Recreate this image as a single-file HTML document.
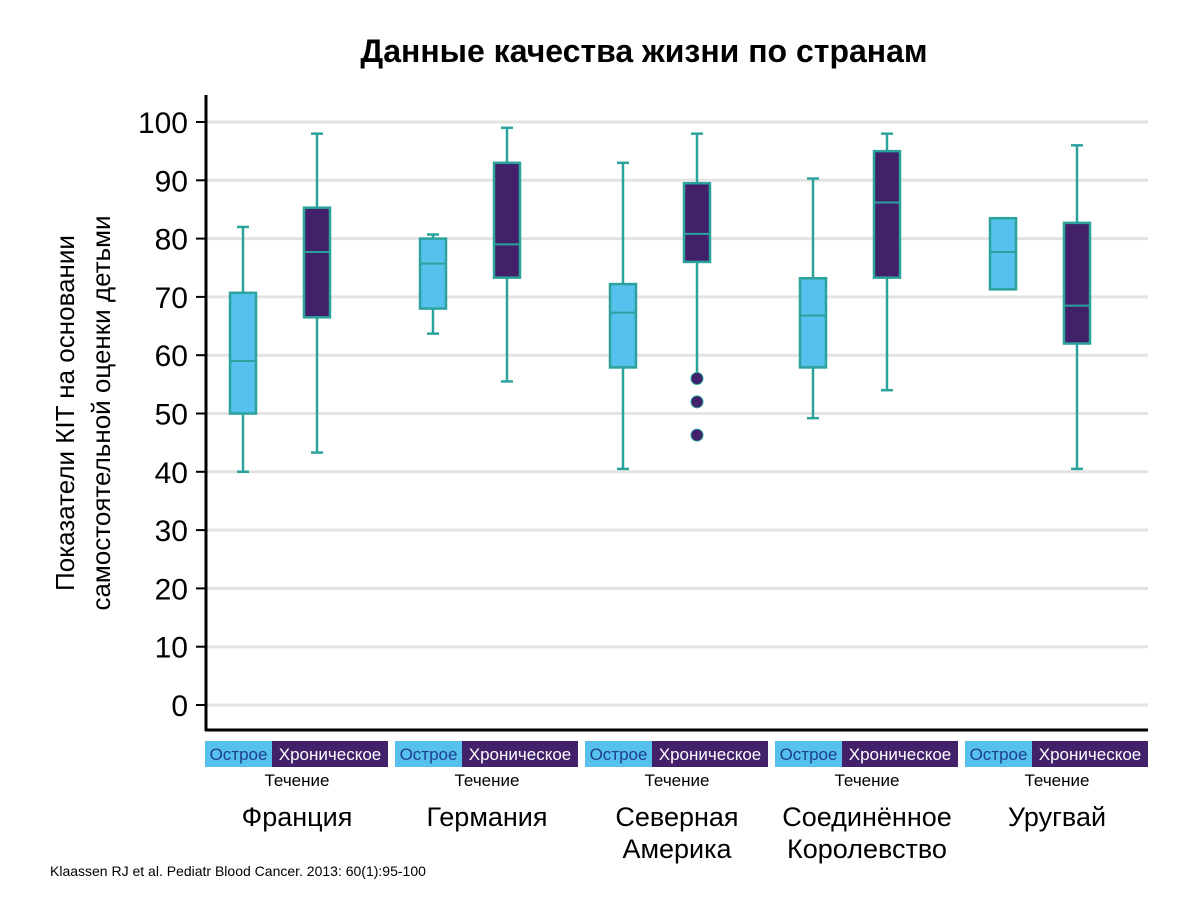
<!DOCTYPE html>
<html><head><meta charset="utf-8"><style>
body{margin:0;background:#fff;font-family:"Liberation Sans",sans-serif}
</style></head><body>
<svg id="chart" width="1200" height="909" xmlns="http://www.w3.org/2000/svg" font-family="Liberation Sans, sans-serif">
<text x="644" y="62" font-size="32" font-weight="bold" text-anchor="middle">Данные качества жизни по странам</text>
<text transform="translate(74,413) rotate(-90)" font-size="26" text-anchor="middle">Показатели КIT на основании</text>
<text transform="translate(110,413) rotate(-90)" font-size="26" text-anchor="middle">самостоятельной оценки детьми</text>
<g id="grid"></g><g id="ticks"></g><g id="boxes"></g><g id="legend"></g>
<line x1="206" y1="95" x2="206" y2="731" stroke="#000" stroke-width="3"/>
<line x1="205" y1="730" x2="1148" y2="730" stroke="#000" stroke-width="3"/>
<text x="50" y="876" font-size="14">Klaassen RJ et al. Pediatr Blood Cancer. 2013: 60(1):95-100</text>
</svg>
<script>
const countries=["Франция","Германия","Северная|Америка","Соединённое|Королевство","Уругвай"];
const yTicks=[0,10,20,30,40,50,60,70,80,90,100];
// [whiskerHigh, q3, median, q1, whiskerLow]
const acute=[[82,70.7,59,50,40],[80.7,80,75.7,68,63.7],[93,72.2,67.3,57.9,40.5],[90.3,73.2,66.8,57.9,49.2],[83.5,83.5,77.7,71.3,71.3]];
const chronic=[[98,85.3,77.7,66.5,43.3],[99,93,79,73.3,55.5],[98,89.5,80.8,76,56],[98,95,86.2,73.3,54],[96,82.7,68.5,62,40.5]];
const outliers=[[],[],[56,52,46.3],[],[]];
const NS="http://www.w3.org/2000/svg";
const y=v=>705-v*5.83;
const gx=i=>205+i*190;
function mk(t,a,p){const e=document.createElementNS(NS,t);for(const k in a)e.setAttribute(k,a[k]);p.appendChild(e);return e;}
const grid=document.getElementById('grid'),ticks=document.getElementById('ticks'),boxes=document.getElementById('boxes'),leg=document.getElementById('legend');
yTicks.forEach(v=>{
 const g=mk('line',{x1:206,x2:1148,y1:y(v),y2:y(v),stroke:'#e3e3e3','stroke-width':3},grid);
 
 
 const tk=mk('line',{x1:196,x2:206,y1:y(v),y2:y(v),stroke:'#000','stroke-width':2},ticks);
 
 
 const t=mk('text',{x:188,y:y(v)+11,'font-size':30,'text-anchor':'end'},ticks);
 t.textContent=v;
 
 
});
function box(cx,d,fill,name){
 const g=mk('g',{},boxes);
 
 
 const s='#2BA39C';
 mk('line',{x1:cx,x2:cx,y1:y(d[0]),y2:y(d[4]),stroke:s,'stroke-width':2.5},g);
 mk('line',{x1:cx-6,x2:cx+6,y1:y(d[0]),y2:y(d[0]),stroke:s,'stroke-width':2.5},g);
 mk('line',{x1:cx-6,x2:cx+6,y1:y(d[4]),y2:y(d[4]),stroke:s,'stroke-width':2.5},g);
 mk('rect',{x:cx-13,y:y(d[1]),width:26,height:y(d[3])-y(d[1]),fill:fill,stroke:s,'stroke-width':2.5},g);
 mk('line',{x1:cx-13,x2:cx+13,y1:y(d[2]),y2:y(d[2]),stroke:s,'stroke-width':2},g);
}
countries.forEach((c,i)=>{
 const x0=gx(i);
 box(x0+38,acute[i],'#56C1EC','box-acute');
 box(x0+112,chronic[i],'#42206A','box-chronic');
 outliers[i].forEach(v=>{
  const o=mk('circle',{cx:x0+112,cy:y(v),r:6,fill:'#42206A',stroke:'#2BA39C','stroke-width':1},boxes);
  
  
 });
 const r1=mk('rect',{x:x0,y:741,width:67,height:26,fill:'#56C1EC'},leg);
 
 
 const r2=mk('rect',{x:x0+67,y:741,width:116,height:26,fill:'#42206A'},leg);
 
 
 const t1=mk('text',{x:x0+33.5,y:760,'font-size':17,'text-anchor':'middle',fill:'#1f3f8f'},leg);t1.textContent='Острое';
 
 
 const t2=mk('text',{x:x0+125,y:760,'font-size':17,'text-anchor':'middle',fill:'#fff'},leg);t2.textContent='Хроническое';
 
 
 const t3=mk('text',{x:x0+92,y:786,'font-size':17,'text-anchor':'middle'},leg);t3.textContent='Течение';
 
 
 c.split('|').forEach((ln,j)=>{
  const t=mk('text',{x:x0+92,y:826+j*32,'font-size':27,'text-anchor':'middle'},leg);t.textContent=ln;
  
  
 });
});
</script>
</body></html>
